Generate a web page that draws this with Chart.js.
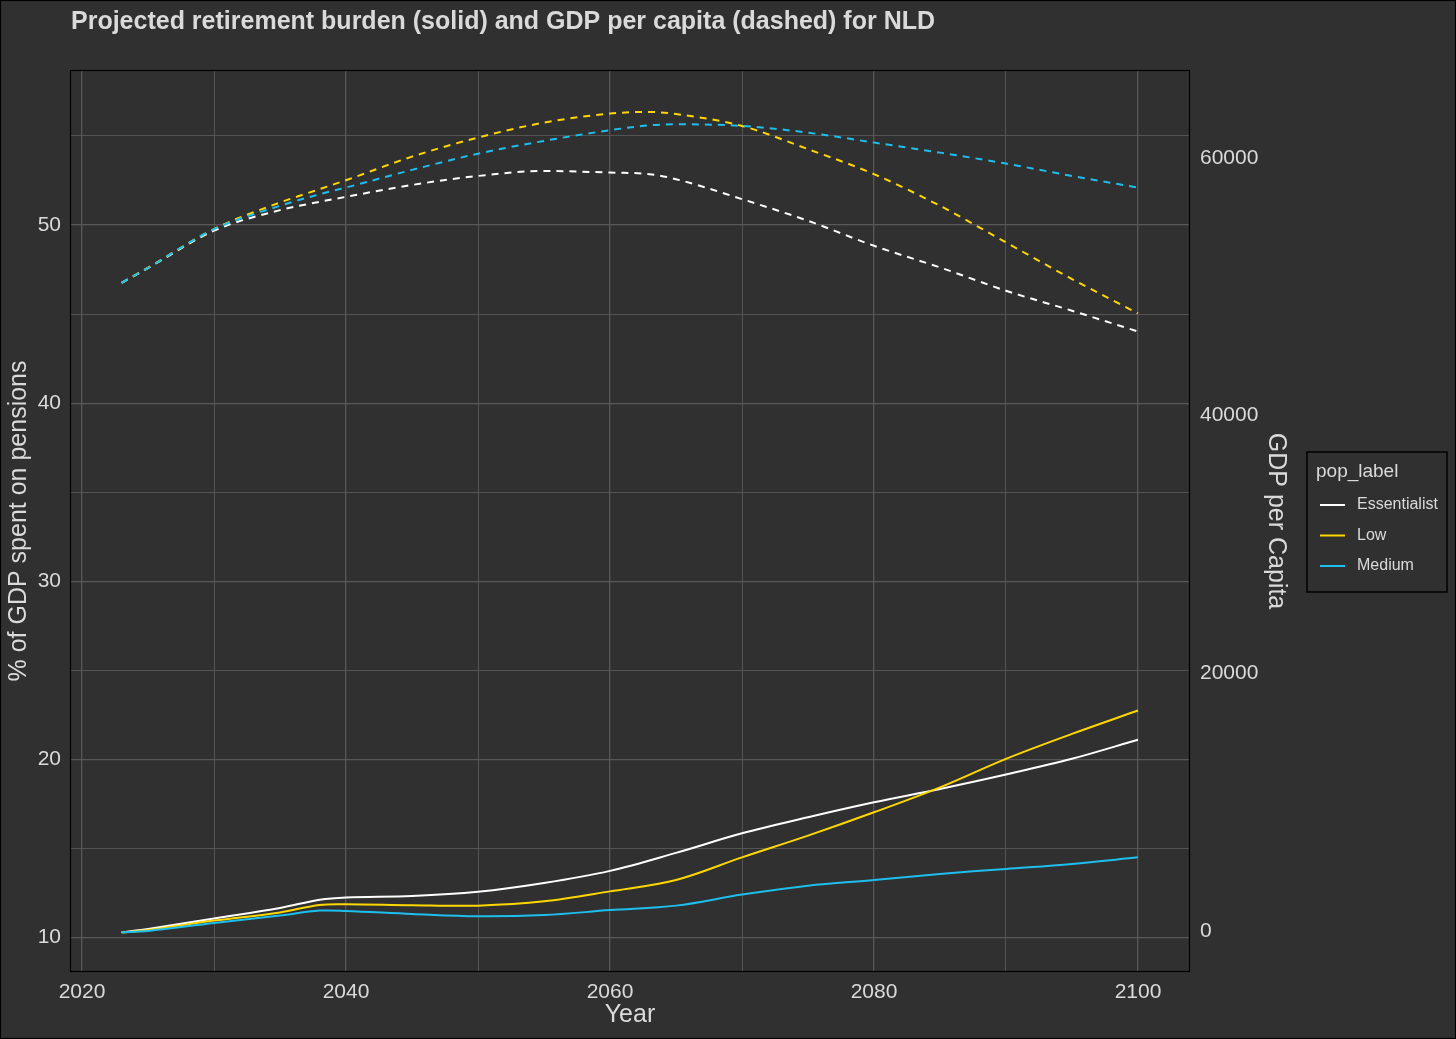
<!DOCTYPE html>
<html>
<head>
<meta charset="utf-8">
<script src="https://cdn.jsdelivr.net/npm/chart.js@4.4.1/dist/chart.umd.min.js"></script>
<style>
  html, body { margin: 0; padding: 0; background: #303030; }
  #wrap { width: 1456px; height: 1039px; }
</style>
</head>
<body>
<div id="wrap"><canvas id="retireChart" width="1456" height="1039"></canvas></div>
<script>
// years
var pensionYears = [2023, 2025, 2030, 2035, 2038, 2040, 2045, 2050, 2055, 2060, 2065, 2070, 2075, 2080, 2085, 2090, 2095, 2100];
var gdpYears = [2023, 2025, 2030, 2035, 2038, 2040, 2045, 2050, 2055, 2060, 2063, 2065, 2070, 2075, 2080, 2085, 2090, 2095, 2100];

// % of GDP spent on pensions (solid lines, left axis)
var essentialistPension = [10.3, 10.49, 11.08, 11.67, 12.13, 12.26, 12.34, 12.58, 13.07, 13.75, 14.76, 15.86, 16.76, 17.60, 18.35, 19.16, 20.04, 21.11];
var lowPension = [10.3, 10.43, 10.96, 11.42, 11.84, 11.88, 11.82, 11.80, 12.04, 12.60, 13.24, 14.51, 15.73, 17.04, 18.44, 20.04, 21.44, 22.75];
var mediumPension = [10.3, 10.38, 10.83, 11.24, 11.52, 11.50, 11.33, 11.20, 11.27, 11.55, 11.80, 12.42, 12.92, 13.24, 13.58, 13.86, 14.14, 14.51];

// GDP per capita (dashed lines, right axis)
var essentialistGdp = [50300, 51450, 54350, 55950, 56590, 56980, 57900, 58600, 58990, 58860, 58740, 58350, 56800, 55120, 53180, 51500, 49690, 48140, 46530];
var lowGdp = [50300, 51480, 54480, 56540, 57575, 58270, 60100, 61580, 62740, 63440, 63570, 63400, 62480, 60680, 58740, 56280, 53440, 50600, 47930];
var mediumGdp = [50300, 51470, 54470, 56280, 57180, 57700, 59070, 60330, 61320, 62150, 62530, 62610, 62480, 61960, 61190, 60410, 59560, 58600, 57700];

// tick marks
var xTicks = [2020, 2030, 2040, 2050, 2060, 2070, 2080, 2090, 2100];
var pensionTicks = [10, 15, 20, 25, 30, 35, 40, 45, 50, 55];
var gdpTicks = [0, 20000, 40000, 60000];

var popLabels = ['Essentialist', 'Low', 'Medium'];
var popColors = ['#ffffff', '#ffd700', '#1ebfee'];

var titleText = 'Projected retirement burden (solid) and GDP per capita (dashed) for NLD';
var textColor = '#dadada';
var gridColor = '#585858';
var fontFamily = '"Liberation Sans", Arial, sans-serif';

function points(xs, values) {
    return xs.map(function(y, i) { return { x: y, y: values[i] }; });
}

function setTicks(list) {
    return function(s) {
        s.ticks = list.map(function(v) { return { value: v }; });
    };
}

var pensionSeries = [essentialistPension, lowPension, mediumPension];
var gdpSeries = [essentialistGdp, lowGdp, mediumGdp];

var datasets = [];
for (var i = 0; i < popLabels.length; i++) {
    datasets.push({
        label: popLabels[i],
        data: points(pensionYears, pensionSeries[i]),
        yAxisID: 'y',
        borderColor: popColors[i],
        borderWidth: 2,
        pointRadius: 0,
        tension: 0.35,
        order: 3 - i
    });
    datasets.push({
        label: popLabels[i] + ' GDP',
        data: points(gdpYears, gdpSeries[i]),
        yAxisID: 'y2',
        borderColor: popColors[i],
        borderWidth: 2,
        borderDash: [7, 6],
        pointRadius: 0,
        cubicInterpolationMode: 'monotone',
        order: 3 - i
    });
}

// background, panel border, title and the legend box
var decor = {
    id: 'decor',
    beforeDraw: function(chart) {
        var c = chart.ctx;
        c.save();
        c.fillStyle = '#303030';
        c.fillRect(0, 0, chart.width, chart.height);
        c.restore();
    },
    afterDraw: function(chart) {
        var c = chart.ctx;
        var a = chart.chartArea;
        c.save();
        c.strokeStyle = '#000000';
        c.lineWidth = 1.2;
        c.strokeRect(a.left + 0.5, a.top + 0.5, a.right - a.left - 1, a.bottom - a.top - 1);
        c.strokeRect(0.5, 0.5, chart.width - 1, chart.height - 1);

        // title
        c.fillStyle = textColor;
        c.font = 'bold 25px ' + fontFamily;
        c.textBaseline = 'alphabetic';
        c.textAlign = 'left';
        c.fillText(titleText, a.left + 1, 29);

        // legend
        var lx = 1307, ly = 452, lw = 140, lh = 140;
        c.lineWidth = 1.5;
        c.strokeRect(lx, ly, lw, lh);
        c.font = '19px ' + fontFamily;
        c.textBaseline = 'middle';
        c.fillText('pop_label', lx + 9, ly + 20);
        c.font = '16px ' + fontFamily;
        for (var k = 0; k < popLabels.length; k++) {
            var yy = ly + 53 + k * 30.5;
            c.strokeStyle = popColors[k];
            c.lineWidth = 2;
            c.beginPath();
            c.moveTo(lx + 13, yy);
            c.lineTo(lx + 38, yy);
            c.stroke();
            c.fillStyle = textColor;
            c.fillText(popLabels[k], lx + 50, yy);
        }
        c.restore();
    }
};

var ctx = document.getElementById('retireChart').getContext('2d');
new Chart(ctx, {
    type: 'line',
    data: { datasets: datasets },
    plugins: [decor],
    options: {
        responsive: false,
        animation: false,
        layout: { padding: { top: 70, right: 165, bottom: 9, left: 0 } },
        plugins: {
            legend: { display: false },
            title: { display: false },
            tooltip: { enabled: false }
        },
        scales: {
            x: {
                type: 'linear',
                min: 2019.09,
                max: 2103.94,
                afterBuildTicks: setTicks(xTicks),
                afterFit: function(s) { s.height = 58; },
                grid: {
                    color: gridColor,
                    lineWidth: function(c) { return c.tick && c.tick.value % 20 === 0 ? 1.3 : 0.9; },
                    drawTicks: false
                },
                border: { display: false },
                ticks: {
                    autoSkip: false,
                    maxRotation: 0,
                    padding: 8,
                    color: textColor,
                    font: { size: 21, family: fontFamily },
                    callback: function(v) { return v % 20 === 0 ? String(v) : ''; }
                },
                title: {
                    display: true,
                    text: 'Year',
                    color: textColor,
                    padding: { top: 0, bottom: 0 },
                    font: { size: 25, family: fontFamily }
                }
            },
            y: {
                position: 'left',
                min: 8.075,
                max: 58.7,
                afterBuildTicks: setTicks(pensionTicks),
                afterFit: function(s) { s.width = 70; },
                grid: {
                    color: gridColor,
                    lineWidth: function(c) { return c.tick && c.tick.value % 10 === 0 ? 1.3 : 0.9; },
                    drawTicks: false
                },
                border: { display: false },
                ticks: {
                    autoSkip: false,
                    padding: 9,
                    color: textColor,
                    font: { size: 21, family: fontFamily },
                    callback: function(v) { return v % 10 === 0 ? String(v) : ''; }
                },
                title: {
                    display: true,
                    text: '% of GDP spent on pensions',
                    color: textColor,
                    padding: { top: 4, bottom: 0 },
                    font: { size: 25, family: fontFamily }
                }
            },
            y2: {
                position: 'right',
                min: -3178,
                max: 66822,
                afterBuildTicks: setTicks(gdpTicks),
                afterFit: function(s) { s.width = 101; },
                grid: { display: false, drawTicks: false },
                border: { display: false },
                ticks: {
                    autoSkip: false,
                    padding: 10,
                    color: textColor,
                    font: { size: 21, family: fontFamily },
                    callback: function(v) { return String(v); }
                },
                title: {
                    display: true,
                    text: 'GDP per Capita',
                    color: textColor,
                    padding: { top: 0, bottom: 0 },
                    font: { size: 25, family: fontFamily }
                }
            }
        }
    }
});
</script>
</body>
</html>
